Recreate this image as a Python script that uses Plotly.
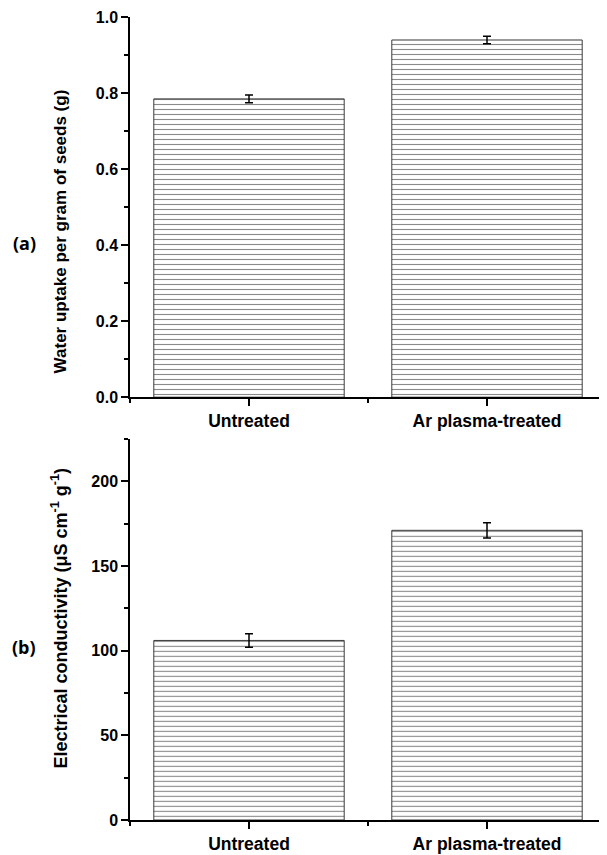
import plotly.graph_objects as go

categories = ["Untreated", "Ar plasma-treated"]
water_uptake = [0.785, 0.940]
water_err = [0.010, 0.010]
conductivity = [106.0, 171.0]
conductivity_err = [4.0, 4.5]
panel_labels = ["(a)", "(b)"]
y_titles = ["Water uptake per gram of seeds (g)",
            "Electrical conductivity (μS cm<sup>-1</sup> g<sup>-1</sup>)"]
water_ticks = [0.0, 0.2, 0.4, 0.6, 0.8, 1.0]

xpos = list(range(len(categories)))

OFF = 8  # default page body margin
W, H = 607 - OFF, 855 - OFF
ML, MR, MT, MB = 130 - OFF, 1, 15 - OFF, 31
ph = H - MT - MB
pw = W - ML - MR


def py(page_y):
    return (H - MB - (page_y - OFF)) / ph


def px(page_x):
    return (page_x - OFF - ML) / pw


top_dom = [py(398), 1.0]
bot_dom = [0.0, py(440)]

fig = go.Figure()

bar_style = dict(
    width=0.8,
    marker=dict(color="white",
                line=dict(color="#3a3a3a", width=1),
                pattern=dict(shape="-", size=5, solidity=0.22,
                             fgcolor="#8a8a8a", bgcolor="white", fillmode="replace")),
    showlegend=False,
)
err_style = dict(type="data", color="black", thickness=1.5, width=4)

fig.add_trace(go.Bar(x=xpos, y=water_uptake,
                     error_y=dict(array=water_err, **err_style),
                     xaxis="x", yaxis="y", **bar_style))
fig.add_trace(go.Bar(x=xpos, y=conductivity,
                     error_y=dict(array=conductivity_err, **err_style),
                     xaxis="x2", yaxis="y2", **bar_style))

ytickfont = dict(family="Liberation Sans, Arial", size=16, color="black", weight="bold")
xtickfont = dict(family="Liberation Sans, Arial", size=17.5, color="black", weight="bold")
xax = dict(range=[-0.5, 1.5], tickmode="array", tickvals=xpos, ticktext=categories,
           showline=True, linecolor="black", linewidth=1.5, ticks="outside",
           ticklen=7, tickwidth=1.5, tickcolor="black", showgrid=False, zeroline=False,
           tickfont=xtickfont, ticklabeloverflow="allow",
           minor=dict(tickmode="array", tickvals=[-0.5, 0.5, 1.5], ticks="outside",
                      ticklen=4, tickwidth=1.5, tickcolor="black", showgrid=False))
yax = dict(showline=True, linecolor="black", linewidth=1.5, ticks="outside",
           ticklen=7, tickwidth=1.5, tickcolor="black", showgrid=False, zeroline=False,
           tickfont=ytickfont, ticklabeloverflow="allow")

fig.update_layout(
    width=W, height=H,
    margin=dict(l=ML, r=MR, t=MT, b=MB),
    plot_bgcolor="white", paper_bgcolor="white",
    xaxis=dict(domain=[0, 1], anchor="y", **xax),
    yaxis=dict(domain=top_dom, anchor="x", range=[0, 1.0005], tickmode="array",
               tickvals=water_ticks, ticktext=[f"{v:.1f}" for v in water_ticks],
               minor=dict(tickmode="array", tickvals=[0.1, 0.3, 0.5, 0.7, 0.9],
                          ticks="outside", ticklen=4, tickwidth=1.5,
                          tickcolor="black", showgrid=False), **yax),
    xaxis2=dict(domain=[0, 1], anchor="y2", **xax),
    yaxis2=dict(domain=bot_dom, anchor="x2", range=[0, 225], dtick=50,
                minor=dict(dtick=25, ticks="outside", ticklen=4, tickwidth=1.5,
                           tickcolor="black", showgrid=False), **yax),
)

title_fonts = [dict(family="Liberation Sans, Arial", size=17, color="black", weight="bold"),
               dict(family="Liberation Sans, Arial", size=18, color="black", weight="bold")]
labelfont = dict(family="Open Sans, Liberation Sans", size=18, color="black", weight="bold")

title_y = [py(231), py(621)]
label_y = [py(243), py(650)]
for i in range(2):
    fig.add_annotation(text=y_titles[i], xref="paper", yref="paper",
                       x=px(60), y=title_y[i], textangle=-90,
                       showarrow=False, font=title_fonts[i], xanchor="center", yanchor="middle")
    fig.add_annotation(text=panel_labels[i], xref="paper", yref="paper",
                       x=px(24), y=label_y[i],
                       showarrow=False, font=labelfont, xanchor="center", yanchor="middle")

fig.write_html("out.html")
